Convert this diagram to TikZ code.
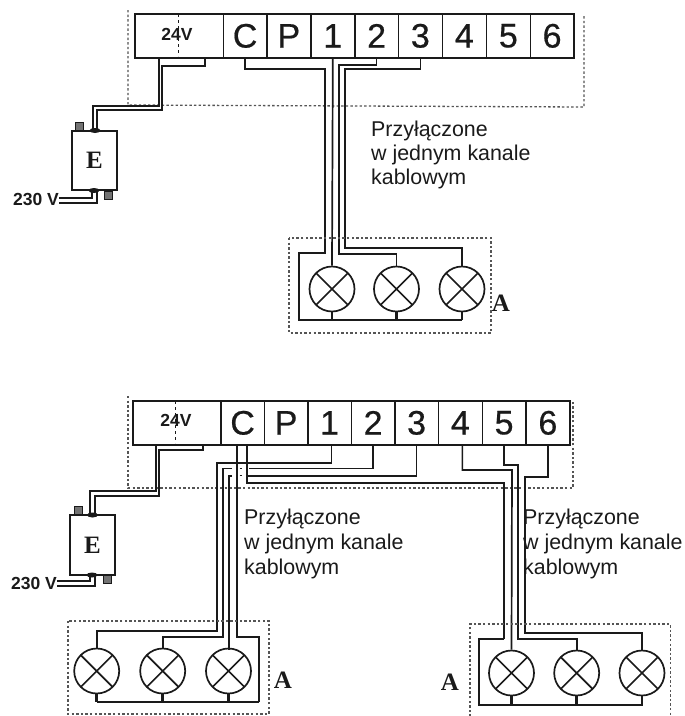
\documentclass[tikz,border=0pt]{standalone}
\usepackage{fontspec}
\setmainfont{Liberation Sans}
\newfontfamily\serfam{Liberation Serif}
\newfontfamily\cellfam[FakeBold=0.5]{Liberation Sans}
\definecolor{ink}{HTML}{1A1A1A}
\definecolor{dotc}{HTML}{555555}
\usetikzlibrary{shapes.geometric}
\tikzset{
  cell/.style={draw=ink,line width=1.7pt,minimum height=44pt,inner sep=0pt,anchor=north west,font=\cellfam\fontsize{34}{34}\selectfont,text=ink},
  wire/.style={draw=ink,line width=1.7pt,line join=miter},
  thickwire/.style={draw=ink,line width=2.7pt,line join=miter},
  dotbox/.style={draw=dotc,line width=1.3pt,dash pattern=on 2.4pt off 2.2pt},
  lamp/.style={circle,draw=ink,line width=1.7pt,minimum size=45pt,inner sep=0pt,
    path picture={\draw[ink,line width=1.7pt] (path picture bounding box.north west)--(path picture bounding box.south east)
      (path picture bounding box.north east)--(path picture bounding box.south west);}},
  psu/.style={draw=ink,line width=1.7pt,inner sep=0pt,font=\serfam\bfseries\fontsize{25}{25}\selectfont,text=ink},
  term/.style={draw=ink,line width=1pt,fill=black!55,minimum size=8pt,inner sep=0pt},
  blob/.style={fill=ink,ellipse,minimum width=11pt,minimum height=5pt,inner sep=0pt},
  note/.style={anchor=north west,align=left,inner sep=0pt,text=ink,font=\fontsize{21.4}{24}\selectfont},
  notewide/.style={note,font=\fontsize{21.4}{25}\selectfont},
  letter/.style={font=\serfam\bfseries\fontsize{25}{25}\selectfont,text=ink,inner sep=0pt},
  vlabel/.style={font=\bfseries\fontsize{17.5}{17.5}\selectfont,text=ink,inner sep=0pt},
}
\begin{document}
\begin{tikzpicture}[x=1pt,y=-1pt]
\useasboundingbox (0,0) rectangle (685,716);
% ---- upper diagram
\draw[dotbox] (128,10) -- (128,105) -- (584,107) -- (584,16);
\node[cell,minimum width=88.5pt] (ua) at (134,13) {};
\node[cell,minimum width=43.5pt] (uC) at (222.5,13) {C};
\node[cell,minimum width=44pt] (uP) at (266,13) {P};
\node[cell,minimum width=44pt] (u1) at (310,13) {1};
\node[cell,minimum width=43.5pt] (u2) at (354,13) {2};
\node[cell,minimum width=44pt] (u3) at (397.5,13) {3};
\node[cell,minimum width=44pt] (u4) at (441.5,13) {4};
\node[cell,minimum width=44pt] (u5) at (485.5,13) {5};
\node[cell,minimum width=43.5pt] (u6) at (529.5,13) {6};
\draw[ink,line width=.9pt,dashed] (178,14) -- (178,56);
\node[vlabel] (u24) at (177,34) {24V};
\node[psu,minimum width=45pt,minimum height=59pt] (uE) at (94.5,160.5) {E};
\node[term] (ut1) at (79.5,126) {};
\node[term] (ut2) at (108.5,195.5) {};
\node[blob] (ub1) at (95,130.5) {};
\node[blob] (ub2) at (94,190.5) {};
\node[vlabel,anchor=east] (u230) at (59,199) {230 V};
\coordinate (ua1) at ([xshift=-20pt]ua.south);
\coordinate (ua2) at ([xshift=26pt]ua.south);
\draw[wire] (ua1) -- (ua1 |- 0,106) -| (93,131);
\draw[wire] (ua2) |- (162,66) |- (97,110) -- (97,131);
\draw[wire] (u230.east |- 0,198) -| (92,190);
\draw[wire] (u230.east |- 0,203) -| (97,190);
\node[lamp] (ul1) at (332,289) {};
\node[lamp] (ul2) at (396.5,289) {};
\node[lamp] (ul3) at (462,289) {};
\draw[thickwire] (uC.south) |- (325,69) |- (299,253) |- (ul3.south |- 0,320);
\draw[thickwire] (ul1.south) -- (ul1.south |- 0,320);
\draw[thickwire] (ul2.south) -- (ul2.south |- 0,320);
\draw[thickwire] (ul3.south) -- (ul3.south |- 0,320);
\draw[wire] (u1.south) -- (ul1.north);
\draw[wire] (u2.south) |- (339,65) |- (ul2.north |- 0,254) -- (ul2.north);
\draw[wire] (u3.south) |- (345,69) -- (345,248) -| (ul3.north);
\draw[dotbox] (289,238) rectangle (491,333);
\node[letter] (uA) at (501,303) {A};
\node[note] (un) at (371,120.5) {Przyłączone\\w jednym kanale\\kablowym};
% ---- lower diagram
\draw[dotbox] (128,396) -- (128,488) -- (573,488) -- (573,400);
\node[cell,minimum width=88pt] (la) at (132,400) {};
\node[cell,minimum width=43.5pt] (lC) at (220,400) {C};
\node[cell,minimum width=43.5pt] (lP) at (263.5,400) {P};
\node[cell,minimum width=43.5pt] (l1) at (307,400) {1};
\node[cell,minimum width=43.5pt] (l2) at (350.5,400) {2};
\node[cell,minimum width=43.5pt] (l3) at (394,400) {3};
\node[cell,minimum width=44pt] (l4) at (437.5,400) {4};
\node[cell,minimum width=43.5pt] (l5) at (481.5,400) {5};
\node[cell,minimum width=44pt] (l6) at (525,400) {6};
\draw[ink,line width=.9pt,dashed] (175.5,401) -- (175.5,443);
\node[vlabel] (l24) at (176,420) {24V};
\node[psu,minimum width=45pt,minimum height=60pt] (lE) at (92.5,545) {E};
\node[term] (lt1) at (78,510) {};
\node[term] (lt2) at (107,579.5) {};
\node[blob] (lb1) at (92.5,515) {};
\node[blob] (lb2) at (92,575) {};
\node[vlabel,anchor=east] (l230) at (57,583) {230 V};
\coordinate (la1) at ([xshift=-21pt]la.south);
\coordinate (la2) at ([xshift=26pt]la.south);
\draw[wire] (la1) -- (la1 |- 0,491) -| (90,515);
\draw[wire] (la2) |- (159,450) |- (95,496) -- (95,515);
\draw[wire] (l230.east |- 0,581) -| (90,575);
\draw[wire] (l230.east |- 0,586) -| (95,575);
% left lamps
\node[lamp] (a1) at (96.7,671) {};
\node[lamp] (a2) at (162.7,671) {};
\node[lamp] (a3) at (228.5,671) {};
\coordinate (lC1) at ([xshift=-5.5pt]lC.south);
\coordinate (lC2) at ([xshift=4.5pt]lC.south);
\draw[wire] ([xshift=2pt]l1.south) |- (217,463) |- (a1.north |- 0,631) -- (a1.north);
\draw[wire] (l2.south) |- (249,468.5);
\draw[wire] (232,468.5) -| (223,637) -| (a2.north);
\draw[wire] (l3.south) |- (246,476);
\draw[wire] (232,476) -| (229,650);
\draw[wire] (239.5,468.5) -- (242,468.5);
\draw[wire] (239.5,475.5) -- (242,475.5);
\draw[wire] (lC1) |- (259,637) -- (259,702);
\draw[thickwire] (259,702) -- (a1.south |- 0,702);
\draw[thickwire] (a1.south) -- (a1.south |- 0,702);
\draw[thickwire] (a2.south) -- (a2.south |- 0,702);
\draw[thickwire] (a3.south) -- (a3.south |- 0,702);
\draw[dotbox] (68,621) rectangle (269,714);
\node[letter] (aA) at (283,680) {A};
\node[notewide] (an) at (244,508.5) {Przyłączone\\w jednym kanale\\kablowym};
% right lamps
\node[lamp] (b1) at (511.5,673) {};
\node[lamp] (b2) at (576.7,673) {};
\node[lamp] (b3) at (642,673) {};
\draw[wire] (lC2) |- (504,483) -- (504,639);
\draw[thickwire] (504,639) -| (479,705) -| (b3.south);
\draw[thickwire] (b1.south) -- (b1.south |- 0,705);
\draw[thickwire] (b2.south) -- (b2.south |- 0,705);
\draw[wire] ([xshift=2pt]l4.south) |- (512,470) -- (b1.north);
\draw[wire] (l5.south) |- (518,465) |- (b2.north |- 0,639) -- (b2.north);
\draw[wire] (l6.south) |- (525,477) |- (b3.north |- 0,633) -- (b3.north);
\draw[dotbox] (470,716.8) -- (470,624) -- (670.5,624) -- (670.5,716.8);
\node[letter] (bA) at (450,682) {A};
\node[notewide] (bn) at (523,508.5) {Przyłączone\\w jednym kanale\\kablowym};
\end{tikzpicture}
\end{document}
